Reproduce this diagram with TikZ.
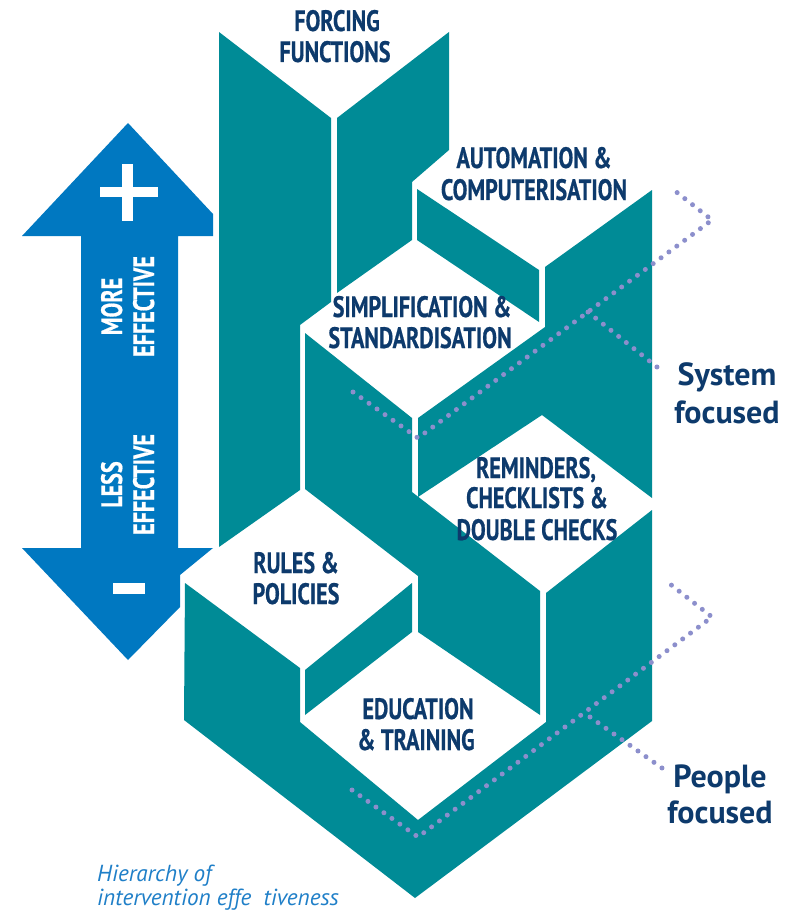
\documentclass[tikz,border=0pt]{standalone}
\usepackage{fontspec}
\newfontfamily\condfont{PT Sans}[FakeStretch=0.75,FakeBold=0.6]
\newfontfamily\plainfont{PT Sans}
\definecolor{tealc}{HTML}{008B96}
\definecolor{navyc}{HTML}{0D3A6C}
\definecolor{arrowc}{HTML}{0078C1}
\definecolor{dotc}{HTML}{8C8FCC}
\definecolor{capc}{HTML}{1F7FC8}
\begin{document}
\begin{tikzpicture}[x=1pt,y=-1pt,
  tealshape/.style={fill=tealc,draw=none},
  lbl/.style={text=navyc,font=\condfont\bfseries\fontsize{29.5}{31}\selectfont,anchor=base,inner sep=0pt},
  arrlbl/.style={lbl,text=white,rotate=90},
  sidelbl/.style={text=navyc,font=\plainfont\bfseries\fontsize{32}{36}\selectfont,anchor=base,inner sep=0pt},
  caplbl/.style={text=capc,font=\plainfont\itshape\fontsize{23.2}{24}\selectfont,anchor=base west,inner sep=0pt},
  dotline/.style={draw=dotc,line width=5pt,line cap=round,dash pattern=on 0pt off 9.8pt}]
\path[use as bounding box,fill=white] (0,0) rectangle (803,912);

% blue double arrow
\fill[arrowc] (128,123) -- (213,214) -- (213,236) -- (178,236) -- (178,548) -- (213,548)
  -- (180,575) -- (180,607) -- (128,660) -- (22,548) -- (81,548) -- (81,236) -- (22,236) -- cycle;
\fill[white] (122,164) rectangle (133,221);
\fill[white] (100,187) rectangle (158,197);
\fill[white] (113,583) rectangle (145,594);
\node[arrlbl] (more) at (122,306.5) {MORE};
\node[arrlbl] (eff1) at (154,306.5) {EFFECTIVE};
\node[arrlbl] (less) at (122,484.5) {LESS};
\node[arrlbl] (eff2) at (154,484.5) {EFFECTIVE};

% teal pieces
\fill[tealshape] (219,32) -- (331,118) -- (331,302) -- (300,325) -- (300,490) -- (219,547) -- cycle;
\fill[tealshape] (337,118) -- (449,32) -- (449,150) -- (412,182) -- (412,240) -- (337,293) -- cycle;
\fill[tealshape] (417,189) -- (539,270) -- (539,322) -- (417,240) -- cycle;
\fill[tealshape] (418,418) -- (545,327) -- (545,267) -- (652,190) -- (652,498) -- (542,415) -- (418,497) -- cycle;
\fill[tealshape] (305,333) -- (412,418) -- (412,492) -- (540,591) -- (540,715) -- (418,632) -- (418,576) -- (305,489) -- cycle;
\fill[tealshape] (305,670) -- (412,583) -- (412,632) -- (305,715) -- cycle;
\fill[tealshape] (185,583) -- (300,668) -- (300,722) -- (418,820) -- (546,722) -- (546,593) -- (652,510)
  -- (652,721) -- (415,898) -- (184,720) -- cycle;

% labels
\node[lbl] (ff1) at (337,31) {FORCING};
\node[lbl] (ff2) at (335,62) {FUNCTIONS};
\node[lbl] (ac1) at (534,168) {AUTOMATION \&};
\node[lbl] (ac2) at (534,200) {COMPUTERISATION};
\node[lbl] (ss1) at (422,317) {SIMPLIFICATION \&};
\node[lbl] (ss2) at (420,348) {STANDARDISATION};
\node[lbl] (rc1) at (536,478) {REMINDERS,};
\node[lbl] (rc2) at (537,508) {CHECKLISTS \&};
\node[lbl] (rc3) at (537,540) {DOUBLE CHECKS};
\node[lbl] (rp1) at (296,573) {RULES \&};
\node[lbl] (rp2) at (296,604) {POLICIES};
\node[lbl] (et1) at (418,719) {EDUCATION};
\node[lbl] (et2) at (416,750) {\& TRAINING};

% dotted brackets
\coordinate (sa) at (353,392); \coordinate (sb) at (418,438); \coordinate (sc) at (712,220);
\coordinate (sd) at (670,187); \coordinate (se) at (588,312); \coordinate (sf) at (662,371);
\draw[dotline] (sa) -- (sb) -- (sc) -- (sd);
\draw[dotline] (se) -- (sf);
\coordinate (pa) at (352,790); \coordinate (pb) at (418,837); \coordinate (pc) at (712,617);
\coordinate (pd) at (670,584); \coordinate (pe) at (590,717); \coordinate (pf) at (662,768);
\draw[dotline] (pa) -- (pb) -- (pc) -- (pd);
\draw[dotline] (pe) -- (pf);

\node[sidelbl] (sys1) at (727,385) {System};
\node[sidelbl] (sys2) at (727,423) {focused};
\node[sidelbl] (peo1) at (720,787) {People};
\node[sidelbl] (peo2) at (720,823) {focused};

\node[caplbl] (cap1) at (97,881) {Hierarchy of};
\node[caplbl] (cap2) at (97,905) {intervention effe\ \ tiveness};
\end{tikzpicture}
\end{document}
